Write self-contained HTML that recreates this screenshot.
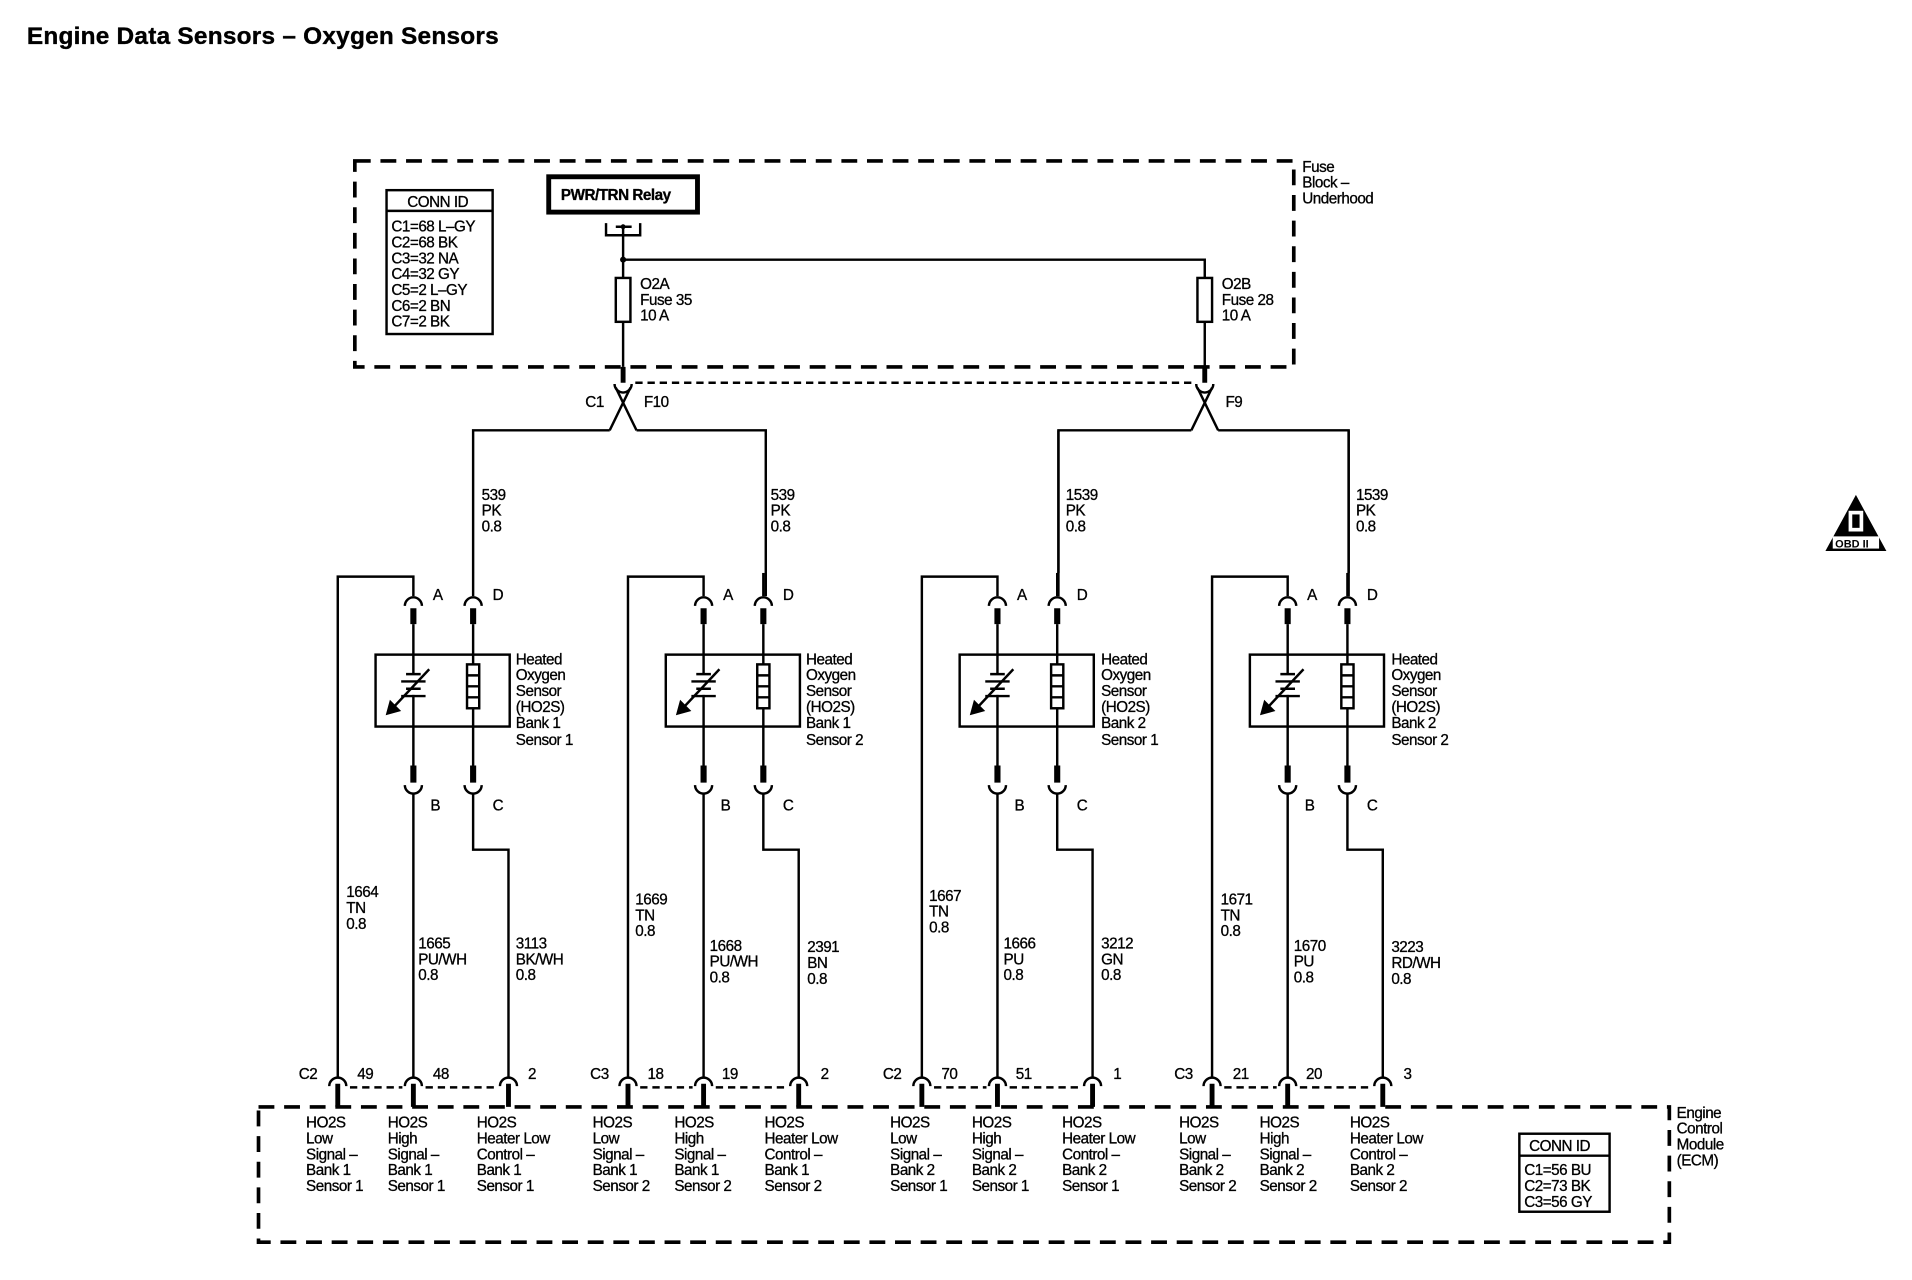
<!DOCTYPE html>
<html><head><meta charset="utf-8"><style>
html,body{margin:0;padding:0;background:#fff;}
svg{display:block}
text{font-family:"Liberation Sans",Arial,sans-serif;font-size:12.5px;fill:#000;letter-spacing:-0.4px;stroke:#000;stroke-width:0.25px}
</style></head><body>
<svg width="1912" height="1280" viewBox="0 0 1568 1050" preserveAspectRatio="none" xmlns="http://www.w3.org/2000/svg">
<defs>
<g id="sens" fill="none" stroke="#000">
 <path d="M339,489 V473 H277 V884" stroke-width="2"/>
 <path d="M388,489 V470" stroke-width="2"/>
 <path d="M332,497 A7,7 0 0 1 346,497 M381,497 A7,7 0 0 1 395,497" stroke-width="2"/>
 <path d="M339,499 V512 M388,499 V512 M339,628 V642 M388,628 V642" stroke-width="5"/>
 <path d="M339,512 V628 M388,512 V628" stroke-width="2"/>
 <path d="M332,644 A7,7 0 0 0 346,644 M381,644 A7,7 0 0 0 395,644" stroke-width="2"/>
 <path d="M339,651 V884 M388,651 V697 H417 V884" stroke-width="2"/>
 <rect x="308" y="537" width="110" height="59" stroke-width="2" fill="#fff"/>
 <path d="M339,537 V553 M339,570 V596 M388,537 V596" stroke-width="2"/>
 <rect x="383" y="545" width="10" height="36" stroke-width="2" fill="#fff"/>
 <path d="M383,554 H393 M383,563 H393 M383,572 H393" stroke-width="2"/>
 <path d="M333,553 H345 M329,559 H349 M333,565 H345 M329,571 H349" stroke-width="2"/>
 <path d="M352,549 L321,582" stroke-width="2"/>
 <path d="M317,586 L320,575 L328,583 Z" fill="#000" stroke-width="1"/>
 <path d="M270,891 A7,7 0 0 1 284,891 M332,891 A7,7 0 0 1 346,891 M410,891 A7,7 0 0 1 424,891" stroke-width="2"/>
 <path d="M277,889 V908 M339,889 V908 M417,889 V908" stroke-width="4"/>
 <path d="M287,892 H330 M349,892 H408" stroke-width="2" stroke-dasharray="6,4"/>
</g>
</defs>

<text x="22" y="36" style="font-size:20px;font-weight:bold;letter-spacing:0.2px;stroke-width:0.3px">Engine Data Sensors – Oxygen Sensors</text>

<!-- Fuse block -->
<rect x="291" y="132" width="770" height="169" fill="none" stroke="#000" stroke-width="3" stroke-dasharray="13,8"/>
<text x="1068" y="141">Fuse</text><text x="1068" y="154">Block –</text><text x="1068" y="167">Underhood</text>
<rect x="317" y="156" width="87" height="118" fill="#fff" stroke="#000" stroke-width="2"/>
<line x1="317" y1="173" x2="404" y2="173" stroke="#000" stroke-width="2"/>
<text x="334" y="170">CONN ID</text>
<text x="321" y="190">C1=68 L–GY</text><text x="321" y="203">C2=68 BK</text><text x="321" y="216">C3=32 NA</text>
<text x="321" y="229">C4=32 GY</text><text x="321" y="242">C5=2 L–GY</text><text x="321" y="255">C6=2 BN</text><text x="321" y="268">C7=2 BK</text>
<rect x="450" y="145" width="122" height="29" fill="#fff" stroke="#000" stroke-width="4"/>
<text x="460" y="164" style="font-weight:bold">PWR/TRN Relay</text>
<path d="M497,183 V193 H525 V183 M505,186 H518" fill="none" stroke="#000" stroke-width="2"/>
<circle cx="511" cy="186" r="2" fill="#000"/>
<g fill="none" stroke="#000" stroke-width="2">
<path d="M511,186 V301 M511,213 H988 V301"/>
<rect x="505" y="228" width="12" height="36" fill="#fff"/>
<rect x="982" y="228" width="12" height="36" fill="#fff"/>
<path d="M511,301 V314 M988,301 V314" stroke-width="4"/>
<path d="M504,315 A7,7 0 0 0 518,315 M981,315 A7,7 0 0 0 995,315"/>
<path d="M521,314 H979" stroke-dasharray="6,4"/>
<path d="M505,318 L522,353 M517,318 L500,353 M500,353 H388 V470 M522,353 H628 V489"/>
<path d="M982,318 L999,353 M994,318 L977,353 M977,353 H868 V489 M999,353 H1106 V489"/>
</g>
<circle cx="511" cy="213" r="2.5" fill="#000"/>
<text x="525" y="237">O2A</text><text x="525" y="250">Fuse 35</text><text x="525" y="263">10 A</text>
<text x="1002" y="237">O2B</text><text x="1002" y="250">Fuse 28</text><text x="1002" y="263">10 A</text>
<text x="480" y="334">C1</text><text x="528" y="334">F10</text><text x="1005" y="334">F9</text>

<!-- sensors -->
<use href="#sens"/>
<use href="#sens" transform="translate(238,0)"/>
<use href="#sens" transform="translate(479,0)"/>
<use href="#sens" transform="translate(717,0)"/>
<path d="M868,470 V353 M1106,470 V353" stroke="#000" stroke-width="2"/>

<text x="395" y="410">539</text><text x="395" y="423">PK</text><text x="395" y="436">0.8</text>
<text x="632" y="410">539</text><text x="632" y="423">PK</text><text x="632" y="436">0.8</text>
<text x="874" y="410">1539</text><text x="874" y="423">PK</text><text x="874" y="436">0.8</text>
<text x="1112" y="410">1539</text><text x="1112" y="423">PK</text><text x="1112" y="436">0.8</text>

<g>
<text x="355" y="492">A</text><text x="404" y="492">D</text><text x="353" y="665">B</text><text x="404" y="665">C</text>
<text x="593" y="492">A</text><text x="642" y="492">D</text><text x="591" y="665">B</text><text x="642" y="665">C</text>
<text x="834" y="492">A</text><text x="883" y="492">D</text><text x="832" y="665">B</text><text x="883" y="665">C</text>
<text x="1072" y="492">A</text><text x="1121" y="492">D</text><text x="1070" y="665">B</text><text x="1121" y="665">C</text>
</g>

<g>
<text x="423" y="545">Heated</text><text x="423" y="558">Oxygen</text><text x="423" y="571">Sensor</text><text x="423" y="584">(HO2S)</text><text x="423" y="597">Bank 1</text><text x="423" y="611">Sensor 1</text>
<text x="661" y="545">Heated</text><text x="661" y="558">Oxygen</text><text x="661" y="571">Sensor</text><text x="661" y="584">(HO2S)</text><text x="661" y="597">Bank 1</text><text x="661" y="611">Sensor 2</text>
<text x="903" y="545">Heated</text><text x="903" y="558">Oxygen</text><text x="903" y="571">Sensor</text><text x="903" y="584">(HO2S)</text><text x="903" y="597">Bank 2</text><text x="903" y="611">Sensor 1</text>
<text x="1141" y="545">Heated</text><text x="1141" y="558">Oxygen</text><text x="1141" y="571">Sensor</text><text x="1141" y="584">(HO2S)</text><text x="1141" y="597">Bank 2</text><text x="1141" y="611">Sensor 2</text>
</g>

<g>
<text x="284" y="736">1664</text><text x="284" y="749">TN</text><text x="284" y="762">0.8</text>
<text x="343" y="778">1665</text><text x="343" y="791">PU/WH</text><text x="343" y="804">0.8</text>
<text x="423" y="778">3113</text><text x="423" y="791">BK/WH</text><text x="423" y="804">0.8</text>
<text x="521" y="742">1669</text><text x="521" y="755">TN</text><text x="521" y="768">0.8</text>
<text x="582" y="780">1668</text><text x="582" y="793">PU/WH</text><text x="582" y="806">0.8</text>
<text x="662" y="781">2391</text><text x="662" y="794">BN</text><text x="662" y="807">0.8</text>
<text x="762" y="739">1667</text><text x="762" y="752">TN</text><text x="762" y="765">0.8</text>
<text x="823" y="778">1666</text><text x="823" y="791">PU</text><text x="823" y="804">0.8</text>
<text x="903" y="778">3212</text><text x="903" y="791">GN</text><text x="903" y="804">0.8</text>
<text x="1001" y="742">1671</text><text x="1001" y="755">TN</text><text x="1001" y="768">0.8</text>
<text x="1061" y="780">1670</text><text x="1061" y="793">PU</text><text x="1061" y="806">0.8</text>
<text x="1141" y="781">3223</text><text x="1141" y="794">RD/WH</text><text x="1141" y="807">0.8</text>
</g>

<g>
<text x="245" y="885">C2</text><text x="293" y="885">49</text><text x="355" y="885">48</text><text x="433" y="885">2</text>
<text x="484" y="885">C3</text><text x="531" y="885">18</text><text x="592" y="885">19</text><text x="673" y="885">2</text>
<text x="724" y="885">C2</text><text x="772" y="885">70</text><text x="833" y="885">51</text><text x="913" y="885">1</text>
<text x="963" y="885">C3</text><text x="1011" y="885">21</text><text x="1071" y="885">20</text><text x="1151" y="885">3</text>
</g>

<!-- ECM -->
<rect x="212" y="908" width="1157" height="111" fill="none" stroke="#000" stroke-width="3" stroke-dasharray="13,8"/>
<text x="1375" y="917">Engine</text><text x="1375" y="930">Control</text><text x="1375" y="943">Module</text><text x="1375" y="956">(ECM)</text>
<rect x="1246" y="930" width="74" height="64" fill="#fff" stroke="#000" stroke-width="2"/>
<line x1="1246" y1="948" x2="1320" y2="948" stroke="#000" stroke-width="2"/>
<text x="1254" y="944">CONN ID</text>
<text x="1250" y="964">C1=56 BU</text><text x="1250" y="977">C2=73 BK</text><text x="1250" y="990">C3=56 GY</text>

<g>
<text x="251" y="925">HO2S</text><text x="251" y="938">Low</text><text x="251" y="951">Signal –</text><text x="251" y="964">Bank 1</text><text x="251" y="977">Sensor 1</text>
<text x="318" y="925">HO2S</text><text x="318" y="938">High</text><text x="318" y="951">Signal –</text><text x="318" y="964">Bank 1</text><text x="318" y="977">Sensor 1</text>
<text x="391" y="925">HO2S</text><text x="391" y="938">Heater Low</text><text x="391" y="951">Control –</text><text x="391" y="964">Bank 1</text><text x="391" y="977">Sensor 1</text>
<text x="486" y="925">HO2S</text><text x="486" y="938">Low</text><text x="486" y="951">Signal –</text><text x="486" y="964">Bank 1</text><text x="486" y="977">Sensor 2</text>
<text x="553" y="925">HO2S</text><text x="553" y="938">High</text><text x="553" y="951">Signal –</text><text x="553" y="964">Bank 1</text><text x="553" y="977">Sensor 2</text>
<text x="627" y="925">HO2S</text><text x="627" y="938">Heater Low</text><text x="627" y="951">Control –</text><text x="627" y="964">Bank 1</text><text x="627" y="977">Sensor 2</text>
<text x="730" y="925">HO2S</text><text x="730" y="938">Low</text><text x="730" y="951">Signal –</text><text x="730" y="964">Bank 2</text><text x="730" y="977">Sensor 1</text>
<text x="797" y="925">HO2S</text><text x="797" y="938">High</text><text x="797" y="951">Signal –</text><text x="797" y="964">Bank 2</text><text x="797" y="977">Sensor 1</text>
<text x="871" y="925">HO2S</text><text x="871" y="938">Heater Low</text><text x="871" y="951">Control –</text><text x="871" y="964">Bank 2</text><text x="871" y="977">Sensor 1</text>
<text x="967" y="925">HO2S</text><text x="967" y="938">Low</text><text x="967" y="951">Signal –</text><text x="967" y="964">Bank 2</text><text x="967" y="977">Sensor 2</text>
<text x="1033" y="925">HO2S</text><text x="1033" y="938">High</text><text x="1033" y="951">Signal –</text><text x="1033" y="964">Bank 2</text><text x="1033" y="977">Sensor 2</text>
<text x="1107" y="925">HO2S</text><text x="1107" y="938">Heater Low</text><text x="1107" y="951">Control –</text><text x="1107" y="964">Bank 2</text><text x="1107" y="977">Sensor 2</text>
</g>

<!-- OBD II -->
<path d="M1522,406 L1497,452 L1547,452 Z" fill="#000"/>
<rect x="1516" y="419" width="12" height="17" fill="#fff"/>
<rect x="1519" y="422" width="6" height="11" fill="#000"/>
<rect x="1503" y="440" width="38" height="10" fill="#fff"/>
<text x="1505" y="449" style="font-size:9px;font-weight:bold;letter-spacing:0;stroke-width:0">OBD II</text>
</svg>
</body></html>
